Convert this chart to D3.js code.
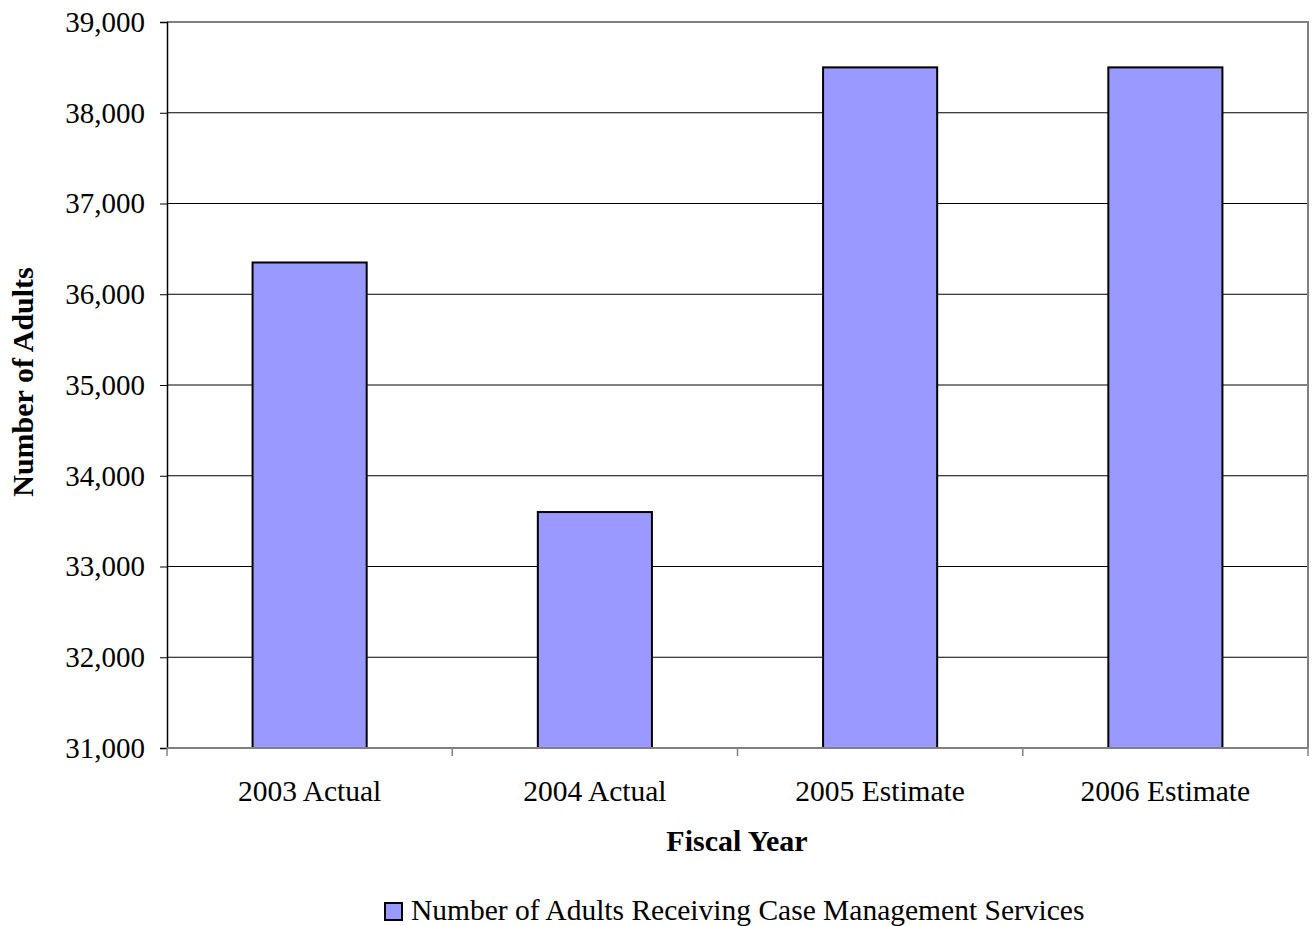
<!DOCTYPE html>
<html>
<head>
<meta charset="utf-8">
<script src="https://cdn.jsdelivr.net/npm/d3@7"></script>
<style>
  html, body { margin: 0; padding: 0; background: #fff; }
  svg { display: block; font-family: "Liberation Serif", "Times New Roman", serif; }
</style>
</head>
<body>
<svg id="chart" width="1314" height="926"></svg>
<script>
// Adults receiving case management services by fiscal year
const categories = ["2003 Actual", "2004 Actual", "2005 Estimate", "2006 Estimate"];
const adults = [36350, 33600, 38500, 38500];
const yTicks = [31000, 32000, 33000, 34000, 35000, 36000, 37000, 38000, 39000];
const seriesName = "Number of Adults Receiving Case Management Services";

const svg = d3.select("#chart");
const plotLeft = 167, plotRight = 1308, plotTop = 22, plotBottom = 748;

const x = d3.scaleBand().domain(categories).range([plotLeft, plotRight]).paddingInner(0.6).paddingOuter(0.3);
const xBoundaries = d3.scaleLinear().domain([0, categories.length]).range([plotLeft, plotRight]);
const y = d3.scaleLinear().domain([31000, 39000]).range([plotBottom, plotTop]);

// horizontal gridlines
svg.append("g").selectAll("line").data(yTicks.slice(1, -1)).join("line")
  .attr("x1", plotLeft).attr("x2", plotRight)
  .attr("y1", d => y(d)).attr("y2", d => y(d))
  .attr("stroke", "#000").attr("stroke-width", 1);

// plot frame (top and right)
svg.append("path")
  .attr("d", `M${plotLeft},${y(39000)}H${plotRight}V${plotBottom}`)
  .attr("fill", "none").attr("stroke", "#808080").attr("stroke-width", 2);

// bars
svg.append("g").selectAll("rect").data(adults).join("rect")
  .attr("x", (d, i) => x(categories[i]))
  .attr("width", x.bandwidth())
  .attr("y", d => y(d))
  .attr("height", d => y(31000) - y(d))
  .attr("fill", "#9999ff").attr("stroke", "#000").attr("stroke-width", 2);

// y axis
const yAxis = svg.append("g").attr("transform", `translate(${plotLeft},0)`)
  .call(d3.axisLeft(y).tickValues(yTicks).tickSize(7).tickPadding(15).tickFormat(d3.format(",")));
yAxis.attr("font-size", null).attr("font-family", null);
yAxis.select(".domain").attr("stroke", "#000").attr("stroke-width", 1.5);
yAxis.selectAll(".tick line").attr("stroke", "#000");
yAxis.selectAll("text").style("font-size", "29px").attr("fill", "#000");

// x axis baseline and boundary ticks
svg.append("line").attr("x1", plotLeft).attr("x2", plotRight).attr("y1", plotBottom).attr("y2", plotBottom)
  .attr("stroke", "#808080").attr("stroke-width", 2);
svg.append("g").selectAll("line").data(d3.range(categories.length + 1)).join("line")
  .attr("x1", d => xBoundaries(d)).attr("x2", d => xBoundaries(d))
  .attr("y1", plotBottom).attr("y2", plotBottom + 8)
  .attr("stroke", "#808080").attr("stroke-width", 1.5);

// category labels
svg.append("g").selectAll("text").data(categories).join("text")
  .attr("x", d => x(d) + x.bandwidth() / 2)
  .attr("y", 801)
  .attr("text-anchor", "middle")
  .style("font-size", "29.5px")
  .text(d => d);

// axis titles
svg.append("text").attr("x", 737).attr("y", 851).attr("text-anchor", "middle")
  .style("font-size", "30px").attr("font-weight", "bold").text("Fiscal Year");
svg.append("text").attr("transform", "translate(33,382) rotate(-90)")
  .attr("text-anchor", "middle").style("font-size", "30px").attr("font-weight", "bold")
  .text("Number of Adults");

// legend
const legend = svg.append("g");
legend.append("rect").attr("x", 385).attr("y", 903).attr("width", 17).attr("height", 17)
  .attr("fill", "#9999ff").attr("stroke", "#000").attr("stroke-width", 2);
legend.append("text").attr("x", 411).attr("y", 920).style("font-size", "29.5px").text(seriesName);
</script>
</body>
</html>
